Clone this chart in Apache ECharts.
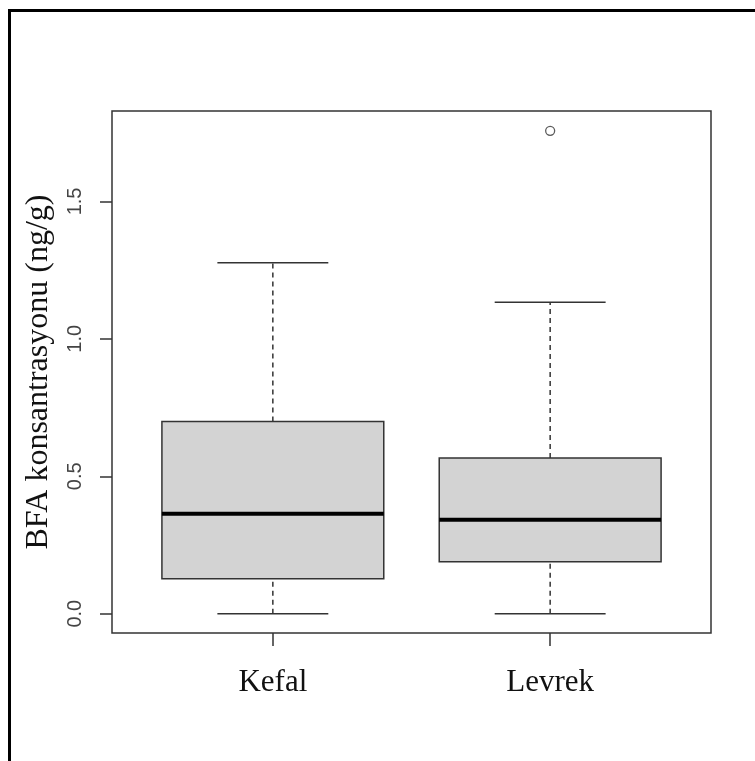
<!DOCTYPE html>
<html>
<head>
<meta charset="utf-8">
<script src="https://cdn.jsdelivr.net/npm/echarts@6/dist/echarts.min.js"></script>
<style>
html,body{margin:0;padding:0;background:#fff;}
#chart{width:755px;height:761px;}
</style>
</head>
<body>
<div id="chart"></div>
<script>
// ---- data ----
const categories = ['Kefal', 'Levrek'];
const categoryPos = [1, 2];
const whiskerLow = [0.0, 0.0];
const q1 = [0.127, 0.189];
const median = [0.364, 0.342];
const q3 = [0.699, 0.566];
const whiskerHigh = [1.277, 1.133];
const outliers = [[2, 1.757]];
const yTicks = [0, 0.5, 1.0, 1.5];
const yTitle = 'BFA konsantrasyonu (ng/g)';

const boxData = categories.map((c, i) => [categoryPos[i], whiskerLow[i], q1[i], median[i], q3[i], whiskerHigh[i]]);

const chart = echarts.init(document.getElementById('chart'), null, {renderer: 'canvas'});
const lineCol = '#333';

chart.setOption({
  backgroundColor: '#fff',
  animation: false,
  graphic: [{
    type: 'rect', left: 7, top: 8,
    shape: {x: 0, y: 0, width: 820, height: 820},
    style: {fill: null, stroke: '#000', lineWidth: 3},
    silent: true, z: 100
  }],
  grid: {left: 112, top: 111, right: 44, bottom: 128, show: true, borderColor: lineCol, borderWidth: 1.5, backgroundColor: 'transparent'},
  xAxis: {
    type: 'value', min: 0.42, max: 2.58,
    splitLine: {show: false},
    axisLine: {show: false, onZero: false},
    axisTick: {show: true, length: 13, inside: false, customValues: categoryPos, lineStyle: {color: lineCol, width: 1.5}},
    axisLabel: {
      customValues: categoryPos,
      formatter: v => categories[categoryPos.indexOf(v)] || '',
      fontFamily: 'Liberation Serif', fontSize: 31, color: '#111', margin: 34
    }
  },
  yAxis: {
    type: 'value', min: -0.0703, max: 1.829,
    splitLine: {show: false},
    axisLine: {show: false, onZero: false},
    axisTick: {show: true, length: 12, customValues: yTicks, lineStyle: {color: lineCol, width: 1.5}},
    axisLabel: {
      customValues: yTicks, rotate: 90,
      formatter: v => v.toFixed(1),
      fontFamily: 'Liberation Sans', fontSize: 20, color: '#444', margin: 27
    },
    name: yTitle, nameLocation: 'middle', nameGap: 57,
    nameTextStyle: {fontFamily: 'Liberation Serif', fontSize: 32, color: '#111'}
  },
  series: [{
    type: 'custom',
    data: boxData,
    encode: {x: 0, y: [1, 2, 3, 4, 5]},
    renderItem: function (params, api) {
      const x = api.value(0);
      const lo = api.coord([x, api.value(1)]);
      const p1 = api.coord([x, api.value(2)]);
      const pm = api.coord([x, api.value(3)]);
      const p3 = api.coord([x, api.value(4)]);
      const hi = api.coord([x, api.value(5)]);
      const bw = api.size([0.8, 0])[0];
      const cw = bw / 2;
      const cx = lo[0];
      const dash = {stroke: lineCol, lineWidth: 1.5, lineDash: [5, 4]};
      const solid = {stroke: lineCol, lineWidth: 1.5};
      return {
        type: 'group',
        children: [
          {type: 'line', shape: {x1: cx, y1: lo[1], x2: cx, y2: p1[1]}, style: dash},
          {type: 'line', shape: {x1: cx, y1: p3[1], x2: cx, y2: hi[1]}, style: dash},
          {type: 'line', shape: {x1: cx - cw / 2, y1: lo[1], x2: cx + cw / 2, y2: lo[1]}, style: solid},
          {type: 'line', shape: {x1: cx - cw / 2, y1: hi[1], x2: cx + cw / 2, y2: hi[1]}, style: solid},
          {type: 'rect', shape: {x: cx - bw / 2, y: p3[1], width: bw, height: p1[1] - p3[1]}, style: {fill: '#d3d3d3', stroke: lineCol, lineWidth: 1.5}},
          {type: 'line', shape: {x1: cx - bw / 2, y1: pm[1], x2: cx + bw / 2, y2: pm[1]}, style: {stroke: '#000', lineWidth: 4}}
        ]
      };
    }
  }, {
    type: 'scatter',
    data: outliers,
    symbol: 'circle', symbolSize: 9,
    itemStyle: {color: '#fff', borderColor: lineCol, borderWidth: 1.3}
  }]
});
</script>
</body>
</html>
